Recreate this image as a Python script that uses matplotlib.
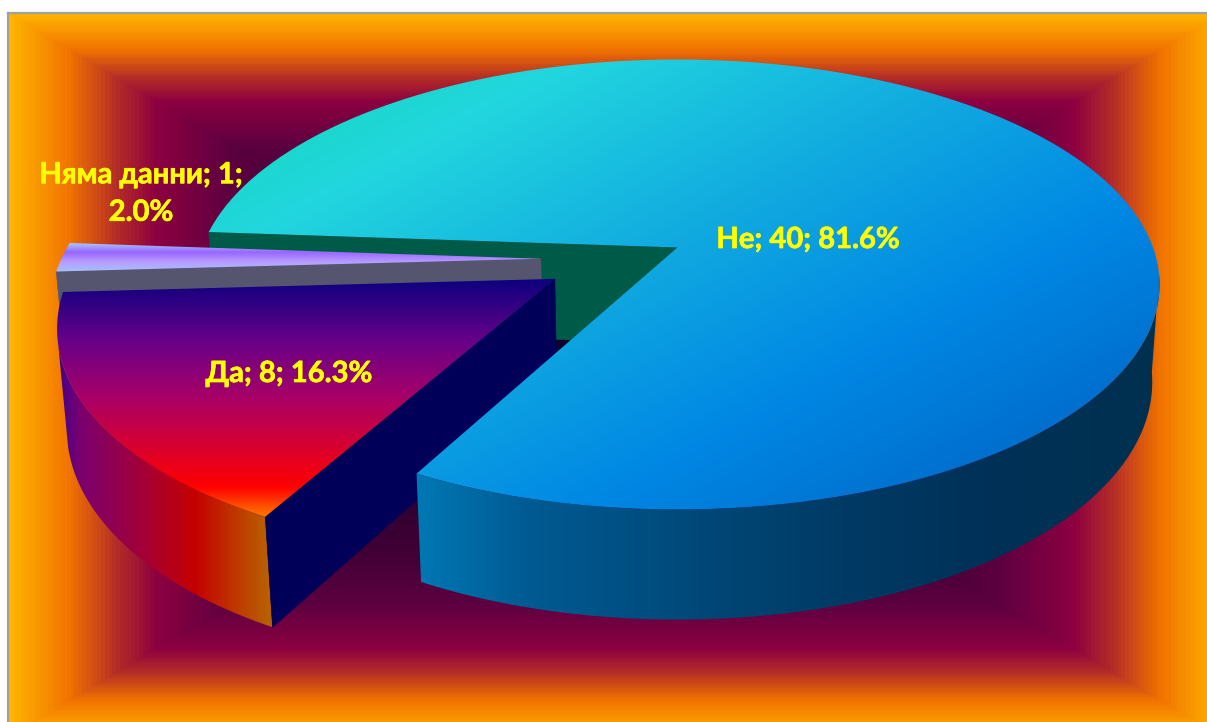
import numpy as np
import matplotlib
matplotlib.use('Agg')
import matplotlib.pyplot as plt
import matplotlib.patheffects as pe
from matplotlib.colors import to_rgb
from matplotlib.patches import Polygon

categorias = ['Не', 'Да', 'Няма данни']
valores = [40, 8, 1]

# vista de la tarta: centro, radios, perspectiva y grosor
CX, CY = 677.5, 247.5
RX, RY = 475.5, 218.9
PERSP = 0.1644
GROSOR = 97.6
PERSP_Z = 0.015
ANGULO_INICIAL = 274.1
SEPARACION = {'Не': (0.0, 0.0), 'Да': (-0.252, 0.14), 'Няма данни': (-0.285, 0.051)}

# angulos donde la pared deja de verse por cada lado
LIMITE_DERECHO = 97
LIMITE_IZQUIERDO = 254

ANCHO, ALTO = 1207, 722


def proyectar(u, v, z=0.0):
    w = 1 - PERSP * v + PERSP_Z * z
    return CX + RX * u / w, CY + (RY * v + GROSOR * z) / w


def borde(a0, a1, sep, z=0.0):
    fi = np.radians(np.linspace(a0, a1, 160))
    x, y = proyectar(np.sin(fi) + sep[0], -np.cos(fi) + sep[1], z)
    return np.column_stack([x, y])


def degradado(ax, poligono, func, paradas, zorder):
    """Rellena un poligono con un degradado de la variable func(x, y)."""
    x0, y0 = np.floor(poligono.min(axis=0)).astype(int) - 1
    x1, y1 = np.ceil(poligono.max(axis=0)).astype(int) + 1
    xx, yy = np.meshgrid(np.arange(x0, x1) + 0.5, np.arange(y0, y1) + 0.5)
    s = func(xx, yy)
    pos = [p[0] for p in paradas]
    cols = np.array([to_rgb(p[1]) for p in paradas])
    img = np.dstack([np.interp(s, pos, cols[:, i]) for i in range(3)])
    im = ax.imshow(img, extent=(x0, x1, y1, y0), aspect='auto', origin='upper',
                   interpolation='nearest', zorder=zorder)
    im.set_clip_path(Polygon(poligono, closed=True, transform=ax.transData))


def cara(ax, puntos, color, zorder):
    ax.add_patch(Polygon(puntos, closed=True, facecolor=color, edgecolor=color,
                         linewidth=0.4, zorder=zorder))


def porcion_superior(a0, a1, sep):
    apice = np.array(proyectar(sep[0], sep[1]))
    return np.vstack([apice, borde(a0, a1, sep)])


def pared(a0, a1, sep):
    return np.vstack([borde(a0, a1, sep), borde(a0, a1, sep, 1.0)[::-1]])


def cara_corte(a, sep):
    fi = np.radians(a)
    ru, rv = np.sin(fi) + sep[0], -np.cos(fi) + sep[1]
    return np.array([proyectar(sep[0], sep[1]), proyectar(ru, rv),
                     proyectar(ru, rv, 1.0), proyectar(sep[0], sep[1], 1.0)])


def fondo(ax):
    # fondo de tipo rectangular con bandas finas, centrado un poco fuera del medio
    cx, cy, hw, hh = 615, 375, 607, 362
    paradas = [(0.0, '#05002a'), (0.5, '#420035'), (0.63, '#5c0040'), (0.755, '#8c0040'),
               (0.82, '#b42c28'), (0.9, '#f27400'), (1.0, '#ffb800')]

    def t(x, y):
        d = np.maximum(np.abs(x - cx) / hw, np.abs(y - cy) / hh)
        return np.round(d * 160) / 160

    rect = np.array([[8, 13], [ANCHO, 13], [ANCHO, ALTO], [8, ALTO]], dtype=float)
    degradado(ax, rect, t, paradas, 1)
    ax.plot([8, 8], [ALTO, 13], color='#a0a0a0', lw=1.6, zorder=2)
    ax.plot([8, ANCHO], [13, 13], color='#a0a0a0', lw=1.6, zorder=2)


def main():
    total = sum(valores)
    barrido = [v / total * 360 for v in valores]
    inicio = ANGULO_INICIAL
    rangos = {}
    for cat, b in zip(categorias, barrido):
        rangos[cat] = (inicio, inicio + b)
        inicio += b

    fig = plt.figure(figsize=(ANCHO / 100, ALTO / 100), dpi=100, facecolor='white')
    ax = fig.add_axes([0, 0, 1, 1])
    fondo(ax)

    # porcion Не, cara trasera
    a0, a1 = rangos['Не']
    cara(ax, cara_corte(a0, SEPARACION['Не']), '#005a48', 3)

    # porcion Няма данни
    a0n, a1n = rangos['Няма данни']
    sep = SEPARACION['Няма данни']
    cara(ax, cara_corte(a0n, sep), '#555570', 4)
    degradado(ax, porcion_superior(a0n, a1n, sep), lambda x, y: y,
              [(243, '#a8c8ff'), (252, '#9966ff'), (262, '#b89cff'), (272, '#a0c4ff')], 5)

    # porcion Да
    a0d, a1d = rangos['Да']
    sep = SEPARACION['Да']
    degradado(ax, pared(a0d % 360, LIMITE_IZQUIERDO, sep), lambda x, y: x,
              [(55, '#3a0090'), (80, '#7a0070'), (150, '#a80030'), (195, '#c40000'),
               (230, '#c03000'), (268, '#b86000')], 6)
    cara(ax, cara_corte(a0d, sep), '#000058', 7)
    degradado(ax, porcion_superior(a0d, a1d, sep), lambda x, y: y,
              [(282, '#10007f'), (340, '#660088'), (397, '#a80068'), (487, '#ff0000'),
               (518, '#ff8000')], 8)

    # porcion Не, la mayor, va delante de las demas
    sep = SEPARACION['Не']
    degradado(ax, pared(LIMITE_DERECHO, a1 % 360, sep), lambda x, y: x,
              [(418, '#0078b4'), (530, '#005a92'), (700, '#004878'), (850, '#003a64'),
               (1000, '#003056'), (1160, '#00304f')], 9)
    degradado(ax, porcion_superior(a0, a1, sep), lambda x, y: (x - 208) * 0.55 + (y - 60),
              [(100, '#18d8c8'), (200, '#22d6de'), (450, '#10a8e0'), (650, '#0088e4'),
               (850, '#006ccc')], 10)

    # etiquetas: categoria; valor; porcentaje
    textos = [f'{c}; {v}; {v / total * 100:.1f}%' for c, v in zip(categorias, valores)]
    textos[2] = textos[2].replace('1; ', '1;\n')
    posiciones = [(808, 240), (289, 374), (141, 194)]
    for texto, (x, y) in zip(textos, posiciones):
        ax.text(x, y, texto, color='#ffff00', fontsize=21, fontweight='bold',
                family=['Lato', 'Noto Sans'], ha='center', va='center',
                linespacing=1.55, zorder=12,
                path_effects=[pe.withStroke(linewidth=0.5, foreground='#ffff00')])

    ax.set_xlim(0, ANCHO)
    ax.set_ylim(ALTO, 0)
    ax.axis('off')
    fig.savefig('out.png', dpi=100, facecolor='white')


if __name__ == '__main__':
    main()
